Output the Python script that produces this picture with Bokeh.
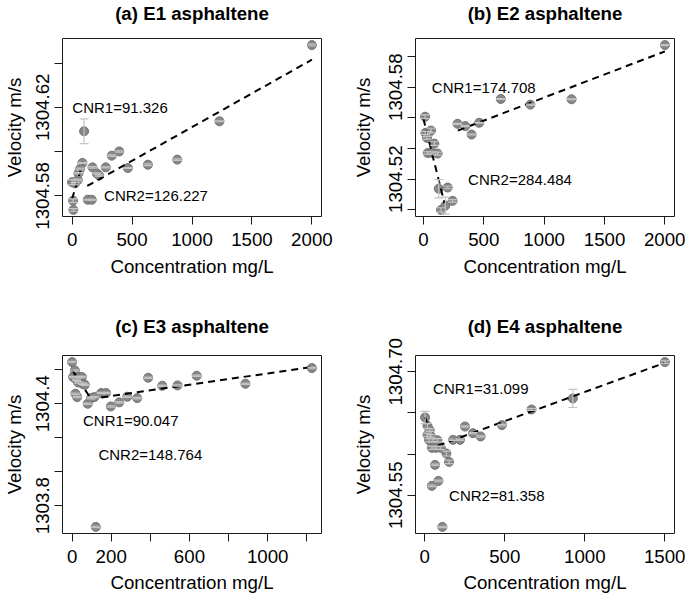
from bokeh.plotting import figure
from bokeh.layouts import column, row
from bokeh.models import FixedTicker, Whisker, TeeHead, ColumnDataSource, Range1d, Label, Title
from bokeh.embed import file_html
from bokeh.resources import INLINE

FONT = "Liberation Sans"

# ---------------- (a) E1 asphaltene ----------------
a_conc = [0, 8, 11, 25, 47, 53, 67, 86, 100, 131, 164, 170, 206, 226, 281, 331, 393, 465, 632, 877, 1229, 2000]
a_vel = [1304.5862, 1304.5779, 1304.5737, 1304.5857, 1304.5872, 1304.5902, 1304.5922, 1304.5949,
         1304.6092, 1304.5783, 1304.5783, 1304.5929, 1304.5902, 1304.5892, 1304.5929, 1304.5982,
         1304.6001, 1304.5926, 1304.5941, 1304.5964, 1304.6137, 1304.6481]
a_err = [0.0012, 0.0008, 0.0006, 0.0004, 0.0004, 0.0003, 0.0004, 0.0003, 0.0056, 0.0002, 0.0002,
         0.0003, 0.0002, 0.0003, 0.0002, 0.0003, 0.0003, 0.0002, 0.0004, 0.0003, 0.0002, 0.0004]
a_fit1_x = [0, 91.326]
a_fit1_y = [1304.5786, 1304.5955]
a_fit2_x = [126.227, 2000]
a_fit2_y = [1304.5845, 1304.6415]
a_notes = ["CNR1=91.326", "CNR2=126.227"]
a_note_x = [400, 700]
a_note_y = [1304.620, 1304.580]
a_xticks = [0, 500, 1000, 1500, 2000]
a_xtick_labels = ["0", "500", "1000", "1500", "2000"]
a_yticks = [1304.58, 1304.60, 1304.62, 1304.64]
a_ytick_labels = ["1304.58", "", "1304.62", ""]

# ---------------- (b) E2 asphaltene ----------------
b_conc = [14, 17, 30, 36, 36, 63, 72, 91, 118, 127, 146, 182, 201, 242, 283, 347, 399, 462, 641, 886, 1227, 2000]
b_vel = [1304.5607, 1304.5502, 1304.5469, 1304.5496, 1304.5371, 1304.5517, 1304.5371, 1304.5432,
         1304.5367, 1304.5138, 1304.5000, 1304.5028, 1304.5146, 1304.5059, 1304.5561, 1304.5546,
         1304.5491, 1304.5568, 1304.5723, 1304.5686, 1304.5721, 1304.6074]
b_err = [0.0012, 0.0010, 0.0008, 0.0015, 0.0008, 0.0015, 0.0008, 0.0012, 0.0010, 0.0060, 0.0014,
         0.0055, 0.0008, 0.0008, 0.0003, 0.0003, 0.0003, 0.0003, 0.0003, 0.0003, 0.0003, 0.0003]
b_fit1_x = [0, 174.708]
b_fit1_y = [1304.5594, 1304.5044]
b_fit2_x = [284.484, 2000]
b_fit2_y = [1304.5517, 1304.6033]
b_notes = ["CNR1=174.708", "CNR2=284.484"]
b_note_x = [500, 800]
b_note_y = [1304.580, 1304.520]
b_xticks = [0, 500, 1000, 1500, 2000]
b_xtick_labels = ["0", "500", "1000", "1500", "2000"]
b_yticks = [1304.50, 1304.52, 1304.54, 1304.56, 1304.58, 1304.60]
b_ytick_labels = ["", "1304.52", "", "", "1304.58", ""]

# ---------------- (c) E3 asphaltene ----------------
c_conc = [0, 5, 14, 17, 22, 26, 31, 36, 50, 53, 65, 80, 97, 114, 121, 149, 174, 198, 241, 282,
          333, 389, 461, 539, 637, 886, 1226]
c_vel = [1304.6451, 1304.557, 1304.596, 1304.459, 1304.541, 1304.439, 1304.5255, 1304.557,
         1304.557, 1304.5176, 1304.5118, 1304.400, 1304.433, 1304.439, 1303.6745, 1304.463,
         1304.463, 1304.384, 1304.408, 1304.441, 1304.433, 1304.5529, 1304.5059, 1304.5078,
         1304.5647, 1304.5176, 1304.6098]
c_err = [0.004, 0.004, 0.004, 0.004, 0.004, 0.004, 0.004, 0.004, 0.004, 0.004, 0.004, 0.004,
         0.004, 0.004, 0.004, 0.004, 0.004, 0.004, 0.004, 0.004, 0.004, 0.004, 0.004, 0.004,
         0.004, 0.004, 0.004]
c_fit1_x = [0, 90.047]
c_fit1_y = [1304.600, 1304.440]
c_fit2_x = [148.764, 1226]
c_fit2_y = [1304.437, 1304.616]
c_notes = ["CNR1=90.047", "CNR2=148.764"]
c_note_x = [300, 400]
c_note_y = [1304.30, 1304.10]
c_xticks = [0, 200, 400, 600, 800, 1000, 1200]
c_xtick_labels = ["0", "200", "", "600", "", "1000", ""]
c_yticks = [1303.8, 1304.0, 1304.2, 1304.4, 1304.6]
c_ytick_labels = ["1303.8", "", "", "1304.4", ""]

# ---------------- (d) E4 asphaltene ----------------
d_conc = [2, 17, 17, 27, 31, 37, 44, 44, 52, 64, 69, 79, 85, 100, 110, 135, 152, 177, 220, 251,
          301, 349, 482, 667, 925, 1500]
d_vel = [1304.6445, 1304.6343, 1304.6234, 1304.6169, 1304.6291, 1304.6222, 1304.6076, 1304.5614,
         1304.6169, 1304.5869, 1304.6076, 1304.6169, 1304.5674, 1304.6076, 1304.5115, 1304.6007,
         1304.5905, 1304.6173, 1304.6173, 1304.6335, 1304.6254, 1304.6214, 1304.6352, 1304.6542,
         1304.6676, 1304.7118]
d_err = [0.0075, 0.0030, 0.0020, 0.0020, 0.0015, 0.0015, 0.0020, 0.0010, 0.0020, 0.0008, 0.0015,
         0.0020, 0.0010, 0.0020, 0.0008, 0.0030, 0.0020, 0.0008, 0.0008, 0.0008, 0.0008, 0.0008,
         0.0008, 0.0010, 0.0110, 0.0015]
d_fit1_x = [0, 31.099]
d_fit1_y = [1304.645, 1304.630]
d_fit2_x = [81.358, 1500]
d_fit2_y = [1304.6103, 1304.711]
d_notes = ["CNR1=31.099", "CNR2=81.358"]
d_note_x = [350, 450]
d_note_y = [1304.680, 1304.550]
d_xticks = [0, 500, 1000, 1500]
d_xtick_labels = ["0", "500", "1000", "1500"]
d_yticks = [1304.55, 1304.60, 1304.65, 1304.70]
d_ytick_labels = ["1304.55", "", "", "1304.70"]

FS = "18.7px"
PT_FILL = "#878787"
PT_LINE = "#737373"
BAR = "#c4c4c4"


def pad_range(vals):
    lo, hi = min(vals), max(vals)
    d = (hi - lo) * 0.04
    return Range1d(lo - d, hi + d)


def panel(title, conc, vel, err, f1x, f1y, f2x, f2y, notes, nx, ny,
          xt, xtl, yt, ytl, w, h, bl, br, bt, bb, spacer, xso, xaso, yaso):
    p = figure(width=w, height=h, output_backend="svg", toolbar_location=None,
               title_location=None,
               x_range=pad_range(conc), y_range=pad_range(vel),
               min_border_left=bl, min_border_right=br, min_border_top=bt, min_border_bottom=bb,
               background_fill_color="white", border_fill_color="white")
    p.outline_line_color = "#1a1a1a"
    p.outline_line_width = 1
    p.grid.visible = False

    # spacer between frame and title, then the title itself
    p.add_layout(Title(text=" ", text_font_size="1px", standoff=spacer), "above")
    p.add_layout(Title(text=title, align="center", vertical_align="bottom", standoff=0,
                       text_font=FONT, text_font_size=FS, text_font_style="bold",
                       text_color="black"), "above")

    for ax in (p.xaxis[0], p.yaxis[0]):
        ax.axis_line_color = None
        ax.major_tick_line_color = "#1a1a1a"
        ax.major_tick_line_width = 1
        ax.major_tick_out = 8
        ax.major_tick_in = 0
        ax.minor_tick_line_color = None
        ax.major_label_text_font = FONT
        ax.major_label_text_font_size = FS
        ax.major_label_text_color = "black"
        ax.axis_label_text_font = FONT
        ax.axis_label_text_font_size = FS
        ax.axis_label_text_font_style = "normal"
        ax.axis_label_text_color = "black"

    p.xaxis.ticker = FixedTicker(ticks=xt)
    p.xaxis.major_label_overrides = dict(zip(xt, xtl))
    p.xaxis.axis_label = "Concentration mg/L"
    p.xaxis.major_label_standoff = xso
    p.xaxis.axis_label_standoff = xaso

    p.yaxis.ticker = FixedTicker(ticks=yt)
    p.yaxis.major_label_overrides = dict(zip(yt, ytl))
    p.yaxis.major_label_orientation = "parallel"
    p.yaxis.axis_label = "Velocity m/s"
    p.yaxis.major_label_standoff = 5
    p.yaxis.axis_label_standoff = yaso

    src = ColumnDataSource(dict(x=conc, y=vel,
                                lo=[v - e for v, e in zip(vel, err)],
                                hi=[v + e for v, e in zip(vel, err)]))
    p.scatter("x", "y", source=src, size=9, marker="circle",
              fill_color=PT_FILL, line_color=PT_LINE, line_width=1)
    wh = Whisker(base="x", lower="lo", upper="hi", source=src, dimension="height",
                 line_color=BAR, line_width=1.2, level="annotation",
                 upper_head=TeeHead(size=9, line_color=BAR, line_width=1.2),
                 lower_head=TeeHead(size=9, line_color=BAR, line_width=1.2))
    p.add_layout(wh)

    p.line(f1x, f1y, line_color="black", line_width=2, line_dash="7 5")
    p.line(f2x, f2y, line_color="black", line_width=2, line_dash="7 5")

    for t, x, y in zip(notes, nx, ny):
        p.add_layout(Label(x=x, y=y, text=t, text_align="center", text_baseline="middle",
                           text_font=FONT, text_font_size="15px", text_color="black"))
    return p


W1, W2 = 347, 338
H1, H2 = 312, 283

pa = panel("(a) E1 asphaltene", a_conc, a_vel, a_err, a_fit1_x, a_fit1_y, a_fit2_x, a_fit2_y,
           a_notes, a_note_x, a_note_y, a_xticks, a_xtick_labels, a_yticks, a_ytick_labels,
           W1, H1, 62, 26, 38, 96, 12, 8, 7, 9)
pb = panel("(b) E2 asphaltene", b_conc, b_vel, b_err, b_fit1_x, b_fit1_y, b_fit2_x, b_fit2_y,
           b_notes, b_note_x, b_note_y, b_xticks, b_xtick_labels, b_yticks, b_ytick_labels,
           W2, H1, 68, 11, 38, 96, 12, 8, 7, 13)
pc = panel("(c) E3 asphaltene", c_conc, c_vel, c_err, c_fit1_x, c_fit1_y, c_fit2_x, c_fit2_y,
           c_notes, c_note_x, c_note_y, c_xticks, c_xtick_labels, c_yticks, c_ytick_labels,
           W1, H2, 62, 26, 43, 62, 16, 8, 6, 9)
pd_ = panel("(d) E4 asphaltene", d_conc, d_vel, d_err, d_fit1_x, d_fit1_y, d_fit2_x, d_fit2_y,
            d_notes, d_note_x, d_note_y, d_xticks, d_xtick_labels, d_yticks, d_ytick_labels,
            W2, H2, 68, 11, 43, 62, 16, 8, 6, 13)

layout = column(row(pa, pb), row(pc, pd_))
open("out.html", "w").write(file_html(layout, INLINE))
